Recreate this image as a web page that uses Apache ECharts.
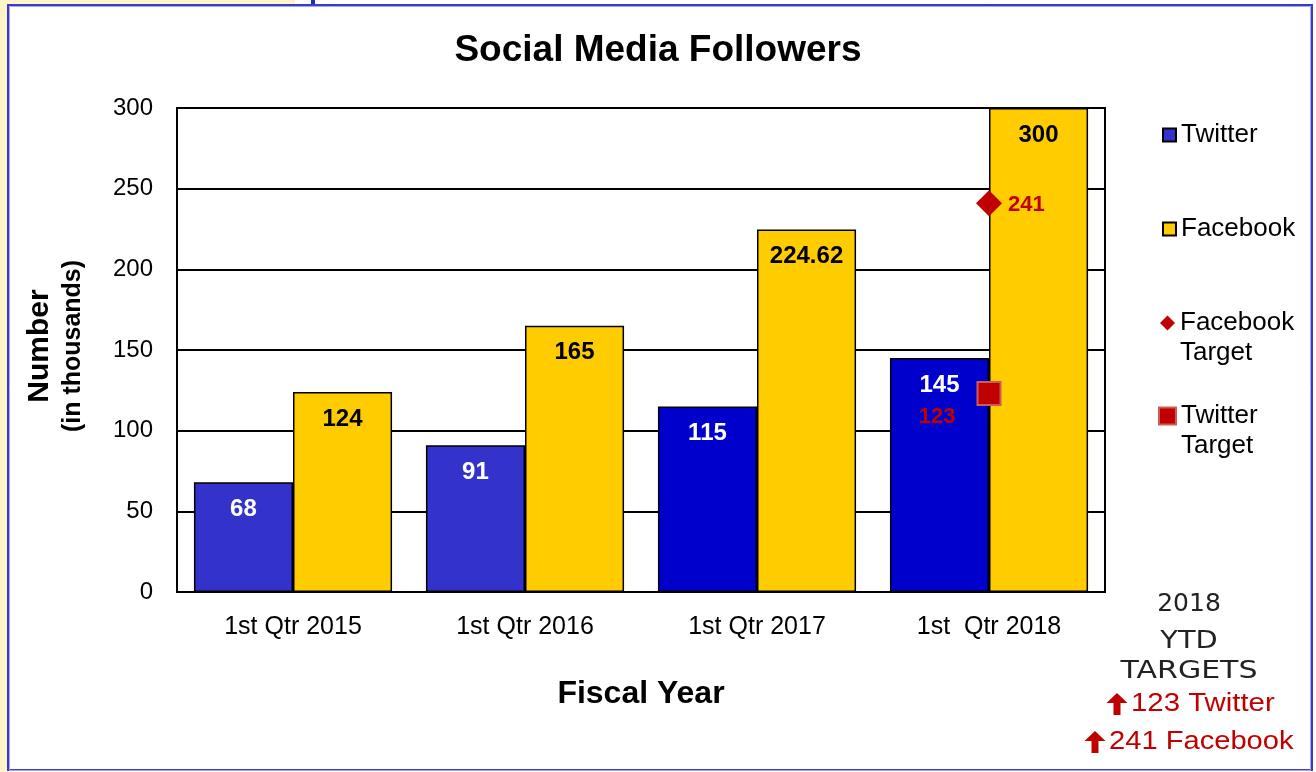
<!DOCTYPE html>
<html>
<head>
<meta charset="utf-8">
<script src="https://cdn.jsdelivr.net/npm/echarts@6/dist/echarts.min.js"></script>
<style>html,body{margin:0;padding:0;background:#fff}#c{width:1316px;height:772px}</style>
</head>
<body>
<div id="c"></div>
<script>
const categories = ['1st Qtr 2015', '1st Qtr 2016', '1st Qtr 2017', '1st  Qtr 2018'];
const twitter = [68, 91, 115, 145];
const facebook = [124, 165, 224.62, 300];
const facebookTarget = [null, null, null, 241];
const twitterTarget = [null, null, null, 123];
const yTicks = { min: 0, max: 300, interval: 50 };

const twitterColors = ['#3333CC', '#3333CC', '#0000CC', '#0000CC'];
const FONT = 'Liberation Sans, Arial, sans-serif';
const WIDE = 'DejaVu Sans, sans-serif';
const RED = '#C00000';

const chart = echarts.init(document.getElementById('c'));

function legendAt(name, icon, size, top, multi) {
  return {
    data: [{ name: name, icon: icon }], orient: 'vertical', left: 1175 - size, top: top, padding: 0,
    itemWidth: size, itemHeight: size, selectedMode: false,
    formatter: n => multi ? '\n' + n.replace(' ', '\n') : n,
    textStyle: { fontFamily: FONT, fontSize: 26, color: '#000', lineHeight: 30 }
  };
}

function arrow(cx, top) {
  const hw = 10.5, sw = 3.5, hh = 10, h = 22;
  return { type: 'polygon', shape: { points: [
    [cx, top], [cx + hw, top + hh], [cx + sw, top + hh], [cx + sw, top + h],
    [cx - sw, top + h], [cx - sw, top + hh], [cx - hw, top + hh]] },
    style: { fill: RED } };
}

const option = {
  animation: false,
  backgroundColor: '#fff',
  title: { text: 'Social Media Followers', left: 'center', top: 27,
    textStyle: { fontFamily: FONT, fontSize: 37, fontWeight: 'bold', color: '#000' } },
  grid: { left: 177, right: 211, top: 108, bottom: 180, show: true, borderColor: '#000', borderWidth: 2 },
  legend: [
    legendAt('Twitter', 'rect', 13, 120, false),
    legendAt('Facebook', 'rect', 13, 214, false),
    legendAt('Facebook Target', 'diamond', 15, 278, true),
    legendAt('Twitter Target', 'rect', 17, 371, true)
  ],
  xAxis: {
    type: 'category', data: categories,
    axisLine: { lineStyle: { color: '#000', width: 2 } },
    axisTick: { show: false },
    axisLabel: { fontFamily: FONT, fontSize: 25, color: '#000', margin: 23 },
    name: 'Fiscal Year', nameLocation: 'middle', nameGap: 86,
    nameTextStyle: { fontFamily: FONT, fontSize: 32, fontWeight: 'bold', color: '#000' }
  },
  yAxis: {
    type: 'value', min: yTicks.min, max: yTicks.max, interval: yTicks.interval,
    axisLine: { show: true, lineStyle: { color: '#000', width: 2 } },
    axisTick: { show: false },
    axisLabel: { fontFamily: FONT, fontSize: 24, color: '#000', margin: 24 },
    splitLine: { lineStyle: { color: '#000', width: 2 } }
  },
  series: [
    {
      name: 'Twitter', type: 'bar', barGap: 0, barCategoryGap: '14.6%',
      itemStyle: { color: '#3333CC', borderColor: '#000', borderWidth: 1.5 },
      data: twitter.map((v, i) => ({ value: v, itemStyle: { color: twitterColors[i] } })),
      label: { show: true, position: 'insideTop', distance: 15, fontFamily: FONT,
        fontSize: 24, fontWeight: 'bold', color: '#fff' }
    },
    {
      name: 'Facebook', type: 'bar',
      itemStyle: { color: '#FFCC00', borderColor: '#000', borderWidth: 1.5 },
      data: facebook,
      label: { show: true, position: 'insideTop', distance: 15, fontFamily: FONT,
        fontSize: 24, fontWeight: 'bold', color: '#000' }
    },
    {
      name: 'Facebook Target', type: 'scatter', symbol: 'diamond', symbolSize: 26, z: 5,
      itemStyle: { color: RED, opacity: 1 },
      data: facebookTarget,
      label: { show: true, position: 'right', distance: 6, offset: [0, 2], fontFamily: FONT,
        fontSize: 22, fontWeight: 'bold', color: RED }
    },
    {
      name: 'Twitter Target', type: 'scatter', symbol: 'rect', symbolSize: 23, z: 5,
      itemStyle: { color: RED, opacity: 1, borderColor: '#D05A5A', borderWidth: 2 },
      data: twitterTarget,
      label: { show: true, position: 'left', distance: 21, offset: [0, 23], fontFamily: FONT,
        fontSize: 22, fontWeight: 'bold', color: RED }
    }
  ],
  graphic: [
    { type: 'rect', shape: { x: 0, y: 0, width: 7, height: 772 }, style: { fill: '#FFF3C8' }, z: 1 },
    { type: 'rect', shape: { x: 0, y: 0, width: 295, height: 4 }, style: { fill: '#FFF3C8' }, z: 1 },
    { type: 'rect', shape: { x: 311, y: 0, width: 4, height: 5 }, style: { fill: '#1133BB' }, z: 1 },
    { type: 'rect', shape: { x: 8, y: 5, width: 1304, height: 765 }, style: { fill: null, stroke: '#3A3ACC', lineWidth: 2 }, z: 1 },
    { type: 'rect', shape: { x: 9.5, y: 6.5, width: 1301, height: 764 }, style: { fill: null, stroke: '#A8A8EE', lineWidth: 1 }, z: 1 },
    { type: 'text', x: 40, y: 346, rotation: Math.PI / 2,
      style: { text: 'Number', fontFamily: FONT, fontSize: 30, fontWeight: 'bold', fill: '#000', align: 'center', verticalAlign: 'middle' } },
    { type: 'text', x: 73, y: 346, rotation: Math.PI / 2,
      style: { text: '(in thousands)', fontFamily: FONT, fontSize: 25, fontWeight: 'bold', fill: '#000', align: 'center', verticalAlign: 'middle' } },
    { type: 'text', x: 1189, y: 604, style: { text: '2018', fontFamily: WIDE, fontSize: 25, fill: '#222', align: 'center', verticalAlign: 'middle' } },
    { type: 'text', x: 1189, y: 641, scaleX: 1.15, style: { text: 'YTD', fontFamily: WIDE, fontSize: 25, fill: '#222', align: 'center', verticalAlign: 'middle' } },
    { type: 'text', x: 1189, y: 671, scaleX: 1.2, style: { text: 'TARGETS', fontFamily: WIDE, fontSize: 25, fill: '#222', align: 'center', verticalAlign: 'middle' } },
    arrow(1117, 693),
    { type: 'text', x: 1131, y: 704, scaleX: 1.13, style: { text: twitterTarget[3] + ' Twitter', fontFamily: FONT, fontSize: 26, fill: RED, align: 'left', verticalAlign: 'middle' } },
    arrow(1095, 731),
    { type: 'text', x: 1109, y: 742, scaleX: 1.12, style: { text: facebookTarget[3] + ' Facebook', fontFamily: FONT, fontSize: 26, fill: RED, align: 'left', verticalAlign: 'middle' } }
  ]
};
chart.setOption(option);
</script>
</body>
</html>
